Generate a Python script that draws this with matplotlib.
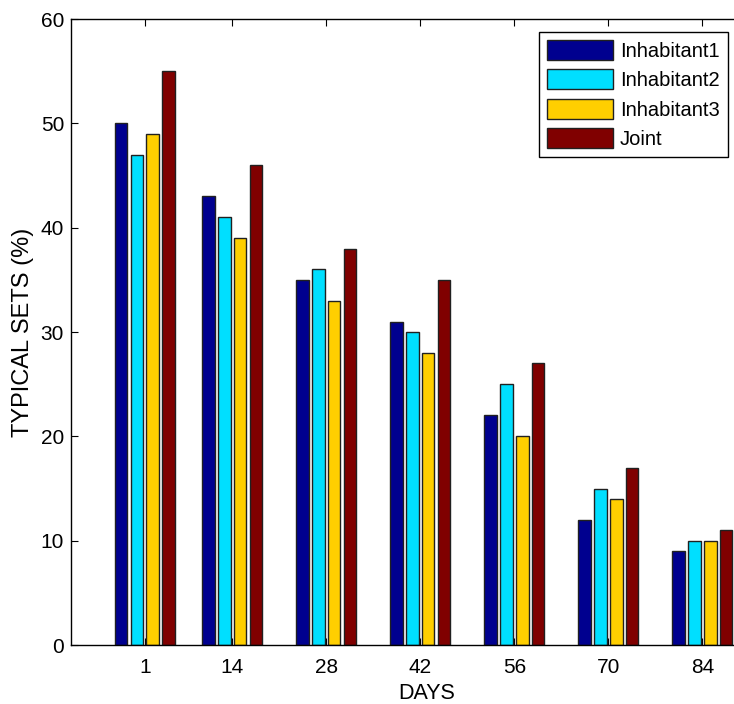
import numpy as np
import matplotlib.pyplot as plt

plt.rcParams['font.family'] = ['Liberation Sans', 'DejaVu Sans']

# Data
days = [1, 14, 28, 42, 56, 70, 84]
inhabitant1 = [50, 43, 35, 31, 22, 12, 9]
inhabitant2 = [47, 41, 36, 30, 25, 15, 10]
inhabitant3 = [49, 39, 33, 28, 20, 14, 10]
joint = [55, 46, 38, 35, 27, 17, 11]

series = [inhabitant1, inhabitant2, inhabitant3, joint]
names = ['Inhabitant1', 'Inhabitant2', 'Inhabitant3', 'Joint']
colors = ['#00008F', '#00DFFF', '#FFCF00', '#800000']

fig = plt.figure(figsize=(7.34, 7.04), dpi=100)
ax = fig.add_axes([0.0967, 0.0838, 0.97, 0.8892])

x = np.array(days, dtype=float)
pitch = 2.36
width = 1.88
for i, (vals, name, c) in enumerate(zip(series, names, colors)):
    ax.bar(x + (i - 1.5) * pitch, vals, width=width, color=c,
           edgecolor='#202020', linewidth=1.0, label=name, zorder=2)

ax.set_xlim(-10, 96)
ax.set_ylim(0, 60)
ax.set_xticks(days)
ax.set_yticks(range(0, 61, 10))
ax.tick_params(axis='both', direction='in', labelsize=15, top=True, right=True,
               length=5, width=0.8, pad=5)
ax.tick_params(axis='x', pad=9)
for s in ax.spines.values():
    s.set_linewidth(1.0)

ax.set_xlabel('DAYS', fontsize=15.5, labelpad=5)
ax.set_ylabel('TYPICAL SETS (%)', fontsize=17, labelpad=5)

leg = ax.legend(loc='upper right', bbox_to_anchor=(0.9227, 0.979), fontsize=14.5,
                fancybox=False, edgecolor='black', framealpha=1,
                handlelength=3.3, handleheight=1.15, handletextpad=0.35,
                labelspacing=0.42, borderpad=0.4, borderaxespad=0)
leg.get_frame().set_linewidth(1.0)

fig.savefig('out.png', dpi=100)
